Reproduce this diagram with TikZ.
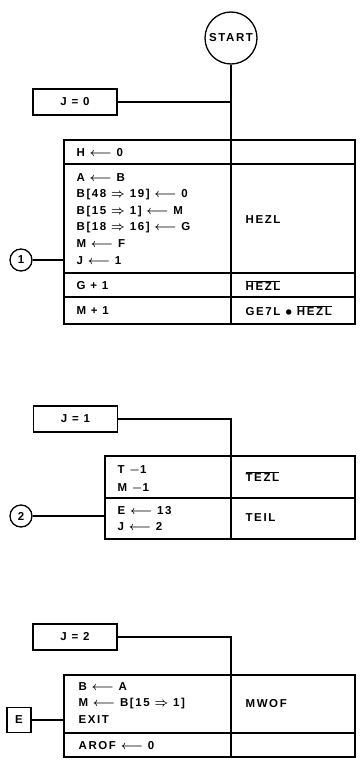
\documentclass[tikz,border=0pt]{standalone}
\usepackage{fontspec}
\setmainfont{Liberation Sans}[LetterSpace=14]
\usetikzlibrary{positioning,calc}
\newcommand\notof[1]{$\overline{\hbox{#1}}$}
\newcommand\takes{$\longleftarrow$}
\newcommand\thru{$\Rightarrow$}
\tikzset{
  every picture/.style={line width=1.2pt, font=\bfseries\boldmath\fontsize{11.5}{13}\selectfont},
  op/.style={anchor=west, inner sep=0pt},
  valbox/.style={draw, line width=1.5pt, minimum width=84pt, minimum height=26pt, inner sep=0pt},
  conn/.style={draw, circle, line width=1.3pt, minimum size=22pt, inner sep=0pt},
  tabline/.style={line width=1.6pt},
  wire/.style={line width=1.2pt},
}
\begin{document}
\begin{tikzpicture}[x=1pt, y=-1pt]
\useasboundingbox (0,0) rectangle (360,760);
\def\xl{64}\def\xm{231}\def\xr{355}\def\xs{105}
\def\xt{76}\def\xf{245}
% start and first block
\node[conn, minimum size=52pt] (start) at (\xm,38) {START};
\node[valbox] (jzero) at (75,102) {J = 0};
\coordinate (top1) at (\xm,140);
\coordinate (left1) at (\xl,140);
\draw[tabline] (\xl,140) rectangle (\xr,324);
\draw[tabline] (\xl,164) -- (\xr,164) (\xl,273) -- (\xr,273) (\xl,297) -- (\xr,297) (\xm,140) -- (\xm,324);
\draw[wire] (start) -- (top1);
\draw[wire] (jzero.east) -- (jzero.east -| top1);
\node[op] (hset) at (\xt,153) {H \takes\ 0};
\node[op] (aset) at (\xt,178) {A \takes\ B};
\node[op] (bclr) at (\xt,195) {B[48 \thru\ 19] \takes\ 0};
\node[op] (bm) at (\xt,212) {B[15 \thru\ 1] \takes\ M};
\node[op] (bg) at (\xt,228) {B[18 \thru\ 16] \takes\ G};
\node[op] (mset) at (\xt,244) {M \takes\ F};
\node[op] (jset) at (\xt,261) {J \takes\ 1};
\node[op] (hezl) at (\xf,220) {HEZL};
\node[op] (ginc) at (\xt,286) {G + 1};
\node[op] (nhezl) at (\xf,286) {\notof{HEZL}};
\node[op] (minc) at (\xt,311) {M + 1};
\node[op] (ge7l) at (\xf,311) {GE7L $\bullet$ \notof{HEZL}};
\node[conn] (one) at (21,260) {1};
\draw[wire] (one) -- (one -| left1);
% second block
\node[valbox] (jone) at (75.5,419) {J = 1};
\coordinate (top2) at (\xm,456);
\coordinate (left2) at (\xs,456);
\draw[tabline] (\xs,456) rectangle (\xr,539);
\draw[tabline] (\xs,498) -- (\xr,498) (\xm,456) -- (\xm,539);
\draw[wire] (jone.east) -| (top2);
\node[op] (tdec) at (117,470) {T $-$1};
\node[op] (mdec) at (117,488) {M $-$1};
\node[op] (ntezl) at (\xf,477) {\notof{TEZL}};
\node[op] (eset) at (117,511) {E \takes\ 13};
\node[op] (jtwoset) at (117,527) {J \takes\ 2};
\node[op] (teil) at (\xf,518) {TEIL};
\node[conn] (two) at (21,516) {2};
\draw[wire] (two) -- (two -| left2);
% third block
\node[valbox] (jtwo) at (75,637) {J = 2};
\coordinate (top3) at (\xm,675);
\coordinate (left3) at (\xl,675);
\draw[tabline] (\xl,675) rectangle (\xr,757);
\draw[tabline] (\xl,733) -- (\xr,733) (\xm,675) -- (\xm,757);
\draw[wire] (jtwo.east) -| (top3);
\node[op] (bset) at (78,687) {B \takes\ A};
\node[op] (mget) at (78,704) {M \takes\ B[15 \thru\ 1]};
\node[op] (exit) at (78,720) {EXIT};
\node[op] (mwof) at (\xf,704) {MWOF};
\node[op] (arof) at (78,746) {AROF \takes\ 0};
\node[valbox, minimum width=24pt, minimum height=25pt] (ebox) at (19,720) {E};
\draw[wire] (ebox) -- (ebox -| left3);
\end{tikzpicture}
\end{document}
